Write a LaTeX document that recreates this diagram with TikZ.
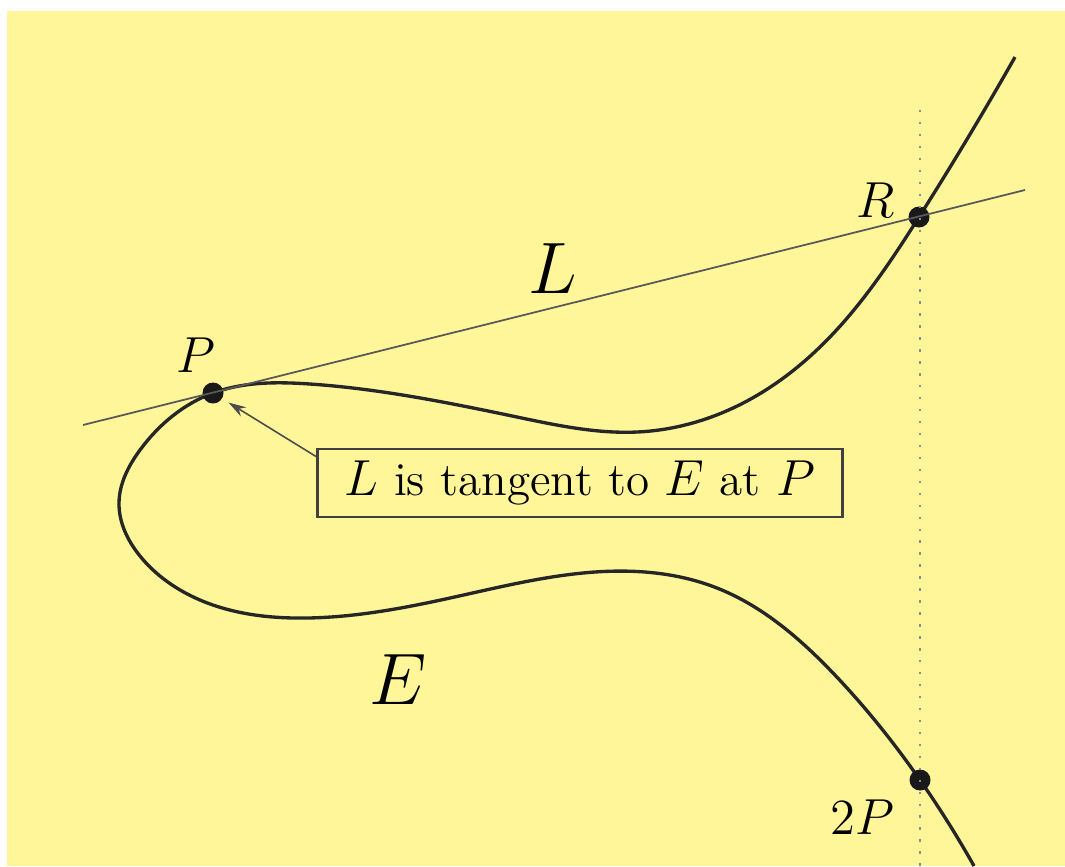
\documentclass[tikz,border=0pt]{standalone}
\usepackage{amsmath,amssymb}
\usepackage{xcolor}
\usepackage{tikz}
\usetikzlibrary{arrows.meta,positioning,hobby}

\definecolor{bgyellow}{RGB}{255,245,153}

\begin{document}
\begin{tikzpicture}[
        x=0.01cm, y=-0.01cm,
        % point styles
        ptdot/.style={circle, fill=black!90, draw=none, minimum size=0.21cm, inner sep=0pt},
        ptlabel/.style={font=\fontsize{13.6}{16}\selectfont},
        biglabel/.style={font=\fontsize{20}{24}\selectfont},
        % line styles
        curve/.style={line width=0.95pt, draw=black!85},
        secant/.style={line width=0.5pt, draw=black!65},
        vertline/.style={line width=0.6pt, draw=black!45, dash pattern=on 0.7pt off 2.7pt},
        notebox/.style={draw=black!75, line width=0.7pt, minimum width=5.25cm, minimum height=0.68cm,
            inner sep=0pt, font=\fontsize{13.4}{16}\selectfont},
        pointer/.style={-{Stealth[length=5pt,width=3pt]}, line width=0.45pt, draw=black!70, shorten >=2pt}
    ]

    % canvas and background
    \useasboundingbox (0,0) rectangle (1065,866);
    \fill[bgyellow] (7,11) rectangle (1065,866);

    % the curve E
    \draw[curve, use Hobby shortcut] (1015,57) .. (919,217) .. (827,340) .. (733,408)
        .. (637,432) .. (517,417) .. (310,384) .. (213,393) .. (140,450) .. (119,503)
        .. (140,556) .. (200,600) .. (307,618) .. (450,598) .. (645,572) .. (717,588)
        .. (833,673) .. (920,780) .. (974,866);

    % points on E
    \node[ptdot] (P) at (213,393) {};
    \node[ptdot] (R) at (919,217) {};
    \node[ptdot] (TwoP) at (920,780) {};

    % ends of L and of the vertical line
    \coordinate (Lw) at (83,425);
    \coordinate (Le) at (1025,190);
    \coordinate (Vtop) at (920,110);
    \coordinate (Vbot) at (920,866);

    % line L and the vertical line through R
    \draw[secant] (Lw) -- (Le);
    \draw[vertline] (Vtop) -- (Vbot);

    % labels
    \node[ptlabel] (Plabel) at (196,355) {$P$};
    \node[ptlabel] (Rlabel) at (876,200) {$R$};
    \node[ptlabel] (TwoPlabel) at (862,817) {$2P$};
    \node[biglabel] (Llabel) at (553,269) {$L$};
    \node[biglabel] (Elabel) at (398,680) {$E$};

    % note box with pointer
    \node[notebox] (note) at (580,483) {$L$ is tangent to $E$ at $P$};
    \draw[pointer] ([yshift=-2.5pt]note.north west) -- (P);

\end{tikzpicture}
\end{document}
